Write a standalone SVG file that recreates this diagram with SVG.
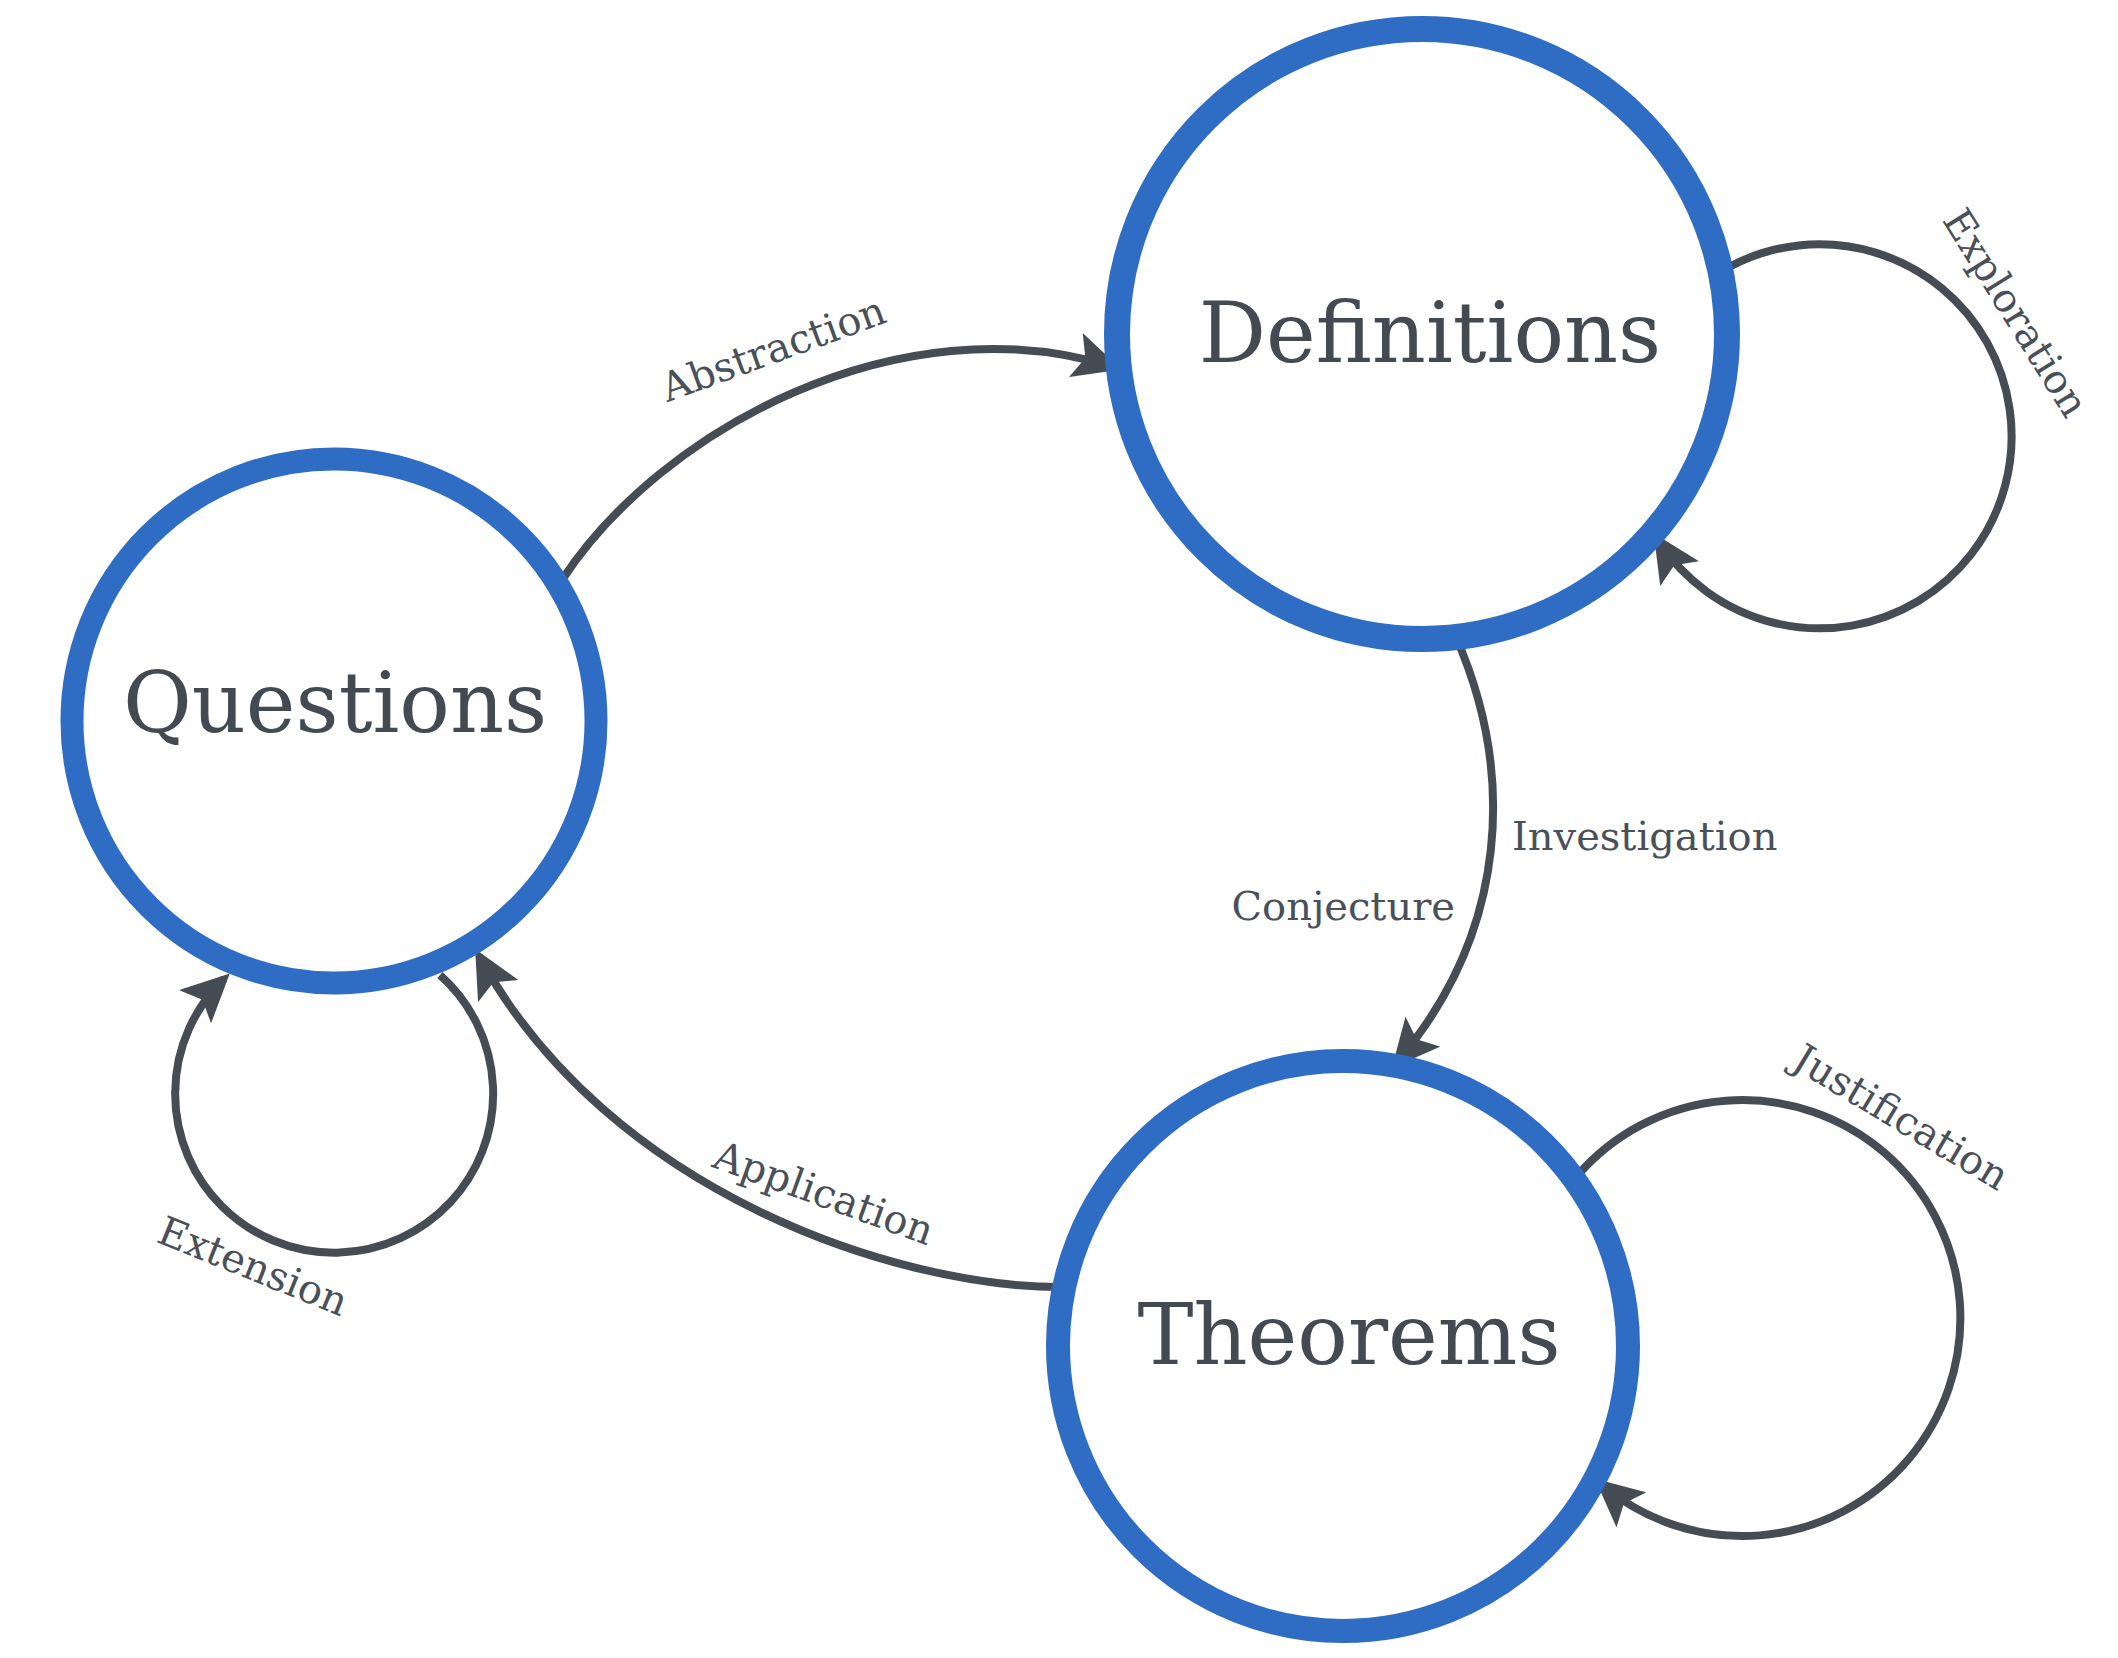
<svg xmlns="http://www.w3.org/2000/svg" width="2118" height="1658" viewBox="0 0 2118 1658">
  <style>
    .ring { fill: #ffffff; stroke: #2f6cc3; }
    .node-label { font-family: "DejaVu Serif", "Liberation Serif", serif; font-size: 84px; fill: #444a52; text-anchor: middle; }
    .edge { fill: none; stroke: #464c54; stroke-width: 8; marker-end: url(#arrow); }
    .edge-label { font-family: "DejaVu Serif", "Liberation Serif", serif; font-size: 40px; fill: #4a5058; }
  </style>
  <defs>
    <marker id="arrow" markerUnits="userSpaceOnUse" viewBox="0 0 48 46" markerWidth="48" markerHeight="46" refX="40" refY="23" orient="auto">
      <path d="M0,0 L48,23 L0,46 L10,23 Z" fill="#464c54"/>
    </marker>
  </defs>
  <rect width="2118" height="1658" fill="#ffffff"/>

  <g id="connectors">
    <path id="abstraction" class="edge" d="M 562 580 C 660 430, 900 300, 1114 367"/>
    <path id="investigation" class="edge" d="M 1455 635 C 1515 770, 1510 930, 1397 1062"/>
    <path id="application" class="edge" d="M 1060 1287 C 900 1287, 610 1195, 479 956"/>
    <path id="extension" class="edge" d="M 440 975 A 159 159 0 1 1 224 979"/>
    <path id="exploration" class="edge" d="M 1731 266 A 192 192 0 1 1 1658 540"/>
    <path id="justification" class="edge" d="M 1577 1176 A 218 218 0 1 1 1601 1484"/>

    <text class="edge-label" text-anchor="middle" x="778" y="362" transform="rotate(-20 778 362)">Abstraction</text>
    <text class="edge-label" text-anchor="start" x="1512" y="850">Investigation</text>
    <text class="edge-label" text-anchor="end" x="1455" y="920">Conjecture</text>
    <text class="edge-label" text-anchor="middle" x="819" y="1206" transform="rotate(20 819 1206)">Application</text>
    <text class="edge-label" text-anchor="middle" x="248" y="1279" transform="rotate(22 248 1279)">Extension</text>
    <text class="edge-label" text-anchor="middle" x="2004" y="320" transform="rotate(58 2004 320)">Exploration</text>
    <text class="edge-label" text-anchor="middle" x="1894" y="1129" transform="rotate(31 1894 1129)">Justification</text>
  </g>

  <g id="node-questions">
    <circle class="ring" cx="334" cy="721" r="262" stroke-width="23"/>
    <text class="node-label" x="335" y="732">Questions</text>
  </g>
  <g id="node-definitions">
    <circle class="ring" cx="1422" cy="334" r="305" stroke-width="26"/>
    <text class="node-label" x="1430" y="362">Definitions</text>
  </g>
  <g id="node-theorems">
    <circle class="ring" cx="1343" cy="1346" r="285" stroke-width="24"/>
    <text class="node-label" x="1349" y="1364">Theorems</text>
  </g>
</svg>
